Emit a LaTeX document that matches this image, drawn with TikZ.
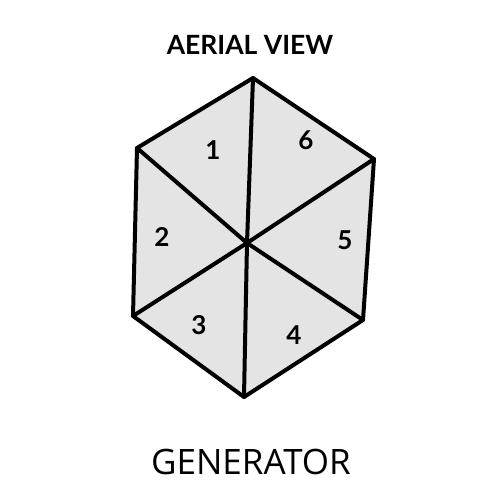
\documentclass[tikz,border=0pt]{standalone}
\usepackage{fontspec}
\setmainfont{Open Sans}
\newfontfamily\gill{Lato}
\definecolor{facefill}{HTML}{E4E4E4}
\begin{document}
\begin{tikzpicture}[x=1pt,y=-1pt,
  edge/.style={line width=4pt,line join=round,line cap=round},
  num/.style={font=\gill\bfseries\fontsize{26}{26}\selectfont}]
\useasboundingbox (0,0) rectangle (500,500);
\coordinate (T) at (253,78);
\coordinate (UR) at (374,159);
\coordinate (LR) at (363,320);
\coordinate (B) at (244,397);
\coordinate (LL) at (133,316);
\coordinate (UL) at (137,148);
\coordinate (C) at (247,243);
\fill[facefill] (T) -- (UR) -- (LR) -- (B) -- (LL) -- (UL) -- cycle;
\draw[edge] (T) -- (UR) -- (LR) -- (B) -- (LL) -- (UL) -- cycle;
\draw[edge] (T) -- (C) -- (B);
\draw[edge] (UL) -- (C) -- (LR);
\draw[edge] (LL) -- (C) -- (UR);
\node[num] (n1) at (213,150) {1};
\node[num] (n6) at (306,140) {6};
\node[num] (n2) at (162,237) {2};
\node[num] (n5) at (345,240) {5};
\node[num] (n3) at (199,325) {3};
\node[num] (n4) at (294,335) {4};
\node[font=\gill\bfseries\fontsize{26.5}{26.5}\selectfont] (title) at (250,45) {AERIAL VIEW};
\node[font=\fontsize{35}{35}\selectfont] (gen) at (251,462) {GENERATOR};
\end{tikzpicture}
\end{document}
